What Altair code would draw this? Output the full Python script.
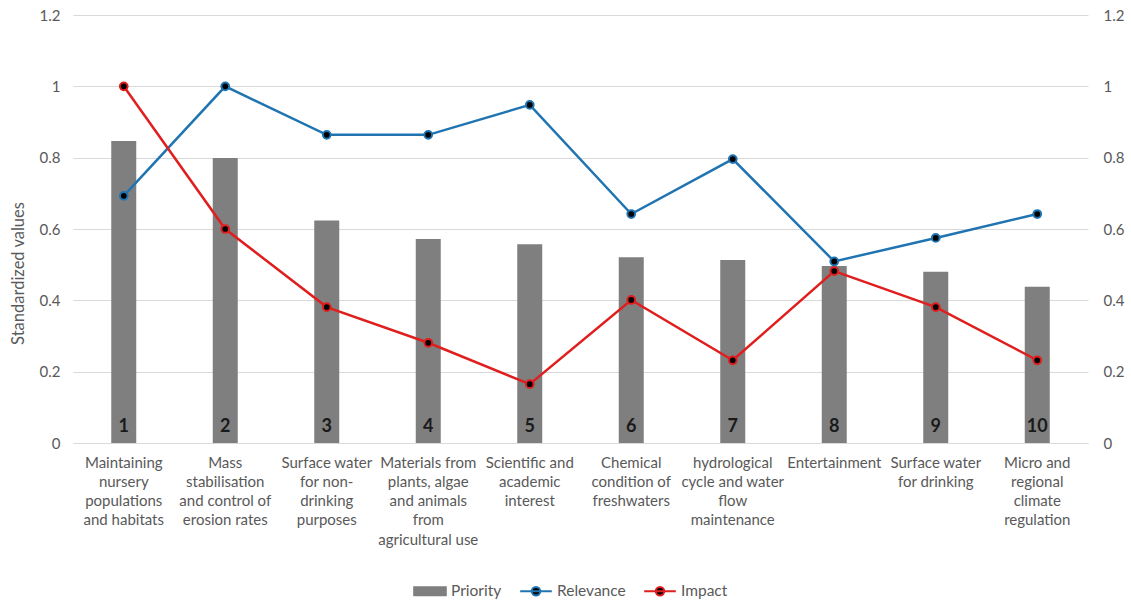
import altair as alt
import pandas as pd

categories = [
    "Maintaining|nursery|populations|and habitats",
    "Mass|stabilisation|and control of|erosion rates",
    "Surface water|for non-|drinking|purposes",
    "Materials from|plants, algae|and animals|from|agricultural use",
    "Scientific and|academic|interest",
    "Chemical|condition of|freshwaters",
    "hydrological|cycle and water|flow|maintenance",
    "Entertainment",
    "Surface water|for drinking",
    "Micro and|regional|climate|regulation",
]
ranks = ["1", "2", "3", "4", "5", "6", "7", "8", "9", "10"]
priority = [0.847, 0.799, 0.624, 0.572, 0.557, 0.521, 0.513, 0.496, 0.480, 0.438]
relevance = [0.693, 1.0, 0.864, 0.864, 0.948, 0.642, 0.796, 0.509, 0.575, 0.642]
impact = [1.0, 0.6, 0.381, 0.281, 0.165, 0.401, 0.232, 0.482, 0.381, 0.232]

series_names = ["Priority", "Relevance", "Impact"]
series_stroke = ["#7f7f7f", "#1f74b1", "#e01e1e"]
series_fill = ["#7f7f7f", "#000000", "#000000"]
series_symbol = [
    "M-1,-0.25H1V0.25H-1Z",
    "M-1,0H1M-0.27,0A0.27,0.27,0,1,0,0.27,0A0.27,0.27,0,1,0,-0.27,0Z",
    "M-1,0H1M-0.27,0A0.27,0.27,0,1,0,0.27,0A0.27,0.27,0,1,0,-0.27,0Z",
]
tick_values = [0, 0.2, 0.4, 0.6, 0.8, 1, 1.2]

FONT = "Lato"
TXT = "#595959"
GRID = "#d9d9d9"
BLUE = series_stroke[1]
RED = series_stroke[2]

bar_df = pd.DataFrame({"category": categories, "rank": ranks,
                       "Priority": priority, "zero": [0] * len(categories)})
rel_df = pd.DataFrame({"category": categories, "series": "Relevance", "value": relevance})
imp_df = pd.DataFrame({"category": categories, "series": "Impact", "value": impact})
legend_df = pd.DataFrame({"category": categories[:3], "series": series_names, "value": [0, 0, 0]})

x_enc = alt.X(
    "category:N", sort=categories,
    scale=alt.Scale(paddingInner=0, paddingOuter=0),
    axis=alt.Axis(title=None, labelExpr="split(datum.label, '|')", labelAngle=0,
                  ticks=False, domainColor=GRID, domainWidth=1,
                  labelFont=FONT, labelFontSize=15, labelColor=TXT,
                  labelPadding=12, labelLimit=0, labelLineHeight=19.3),
)

y_scale = alt.Scale(domain=[0, 1.2], nice=False)
left_axis = alt.Axis(title="Standardized values", values=tick_values, format="~g",
                     grid=True, gridColor=GRID, domain=False, ticks=False,
                     labelFont=FONT, labelFontSize=15, labelColor=TXT, labelPadding=13,
                     titleFont=FONT, titleFontSize=16.5, titleFontWeight="normal",
                     titleColor=TXT, titleX=-55, titleY=258, titleAngle=270,
                     titleAlign="center", titleBaseline="middle")
right_axis = alt.Axis(orient="right", title=None, values=tick_values, format="~g",
                      grid=False, domain=False, ticks=False,
                      labelFont=FONT, labelFontSize=15, labelColor=TXT, labelPadding=15)

bars = alt.Chart(bar_df).mark_bar(size=25, color="#7f7f7f").encode(
    x=x_enc, y=alt.Y("Priority:Q", scale=y_scale, axis=left_axis))
nums = alt.Chart(bar_df).mark_text(font=FONT, fontSize=18, fontWeight="bold",
                                   color="#1a1a1a", baseline="bottom", dy=-7).encode(
    x=x_enc, y=alt.Y("zero:Q", scale=y_scale, axis=left_axis), text="rank:N")

y_right = alt.Y("value:Q", scale=y_scale, axis=right_axis)


def series_layers(df, color):
    line = alt.Chart(df).mark_line(strokeWidth=2.5, color=color).encode(x=x_enc, y=y_right)
    pts = alt.Chart(df).mark_point(filled=True, fill="black", stroke=color, shape="circle",
                                   size=60, strokeWidth=2, opacity=1).encode(x=x_enc, y=y_right)
    return [line, pts]


legend = alt.Legend(title=None, orient="none", legendX=340, legendY=559,
                    direction="horizontal", symbolSize=1000, symbolStrokeWidth=2,
                    labelFont=FONT, labelFontSize=15.5, labelColor=TXT,
                    labelOffset=4, columnPadding=14)
legend_layer = alt.Chart(legend_df).transform_filter("false").mark_point(
    filled=True, opacity=1, strokeWidth=2).encode(
    x=x_enc, y=y_right,
    fill=alt.Fill("series:N", scale=alt.Scale(domain=series_names, range=series_fill), legend=legend),
    stroke=alt.Stroke("series:N", scale=alt.Scale(domain=series_names, range=series_stroke), legend=legend),
    shape=alt.Shape("series:N", scale=alt.Scale(domain=series_names, range=series_symbol), legend=legend),
)

chart = alt.layer(
    alt.layer(bars, nums),
    alt.layer(*series_layers(rel_df, BLUE), *series_layers(imp_df, RED), legend_layer),
).resolve_scale(y="independent").properties(
    width=1015, height=428,
    padding={"left": 73, "top": 15, "right": 43, "bottom": 159},
    autosize=alt.AutoSizeParams(type="none"),
    background="white",
).configure_view(stroke=None)

chart.save("out.html", embed_options={"renderer": "svg", "actions": False})
